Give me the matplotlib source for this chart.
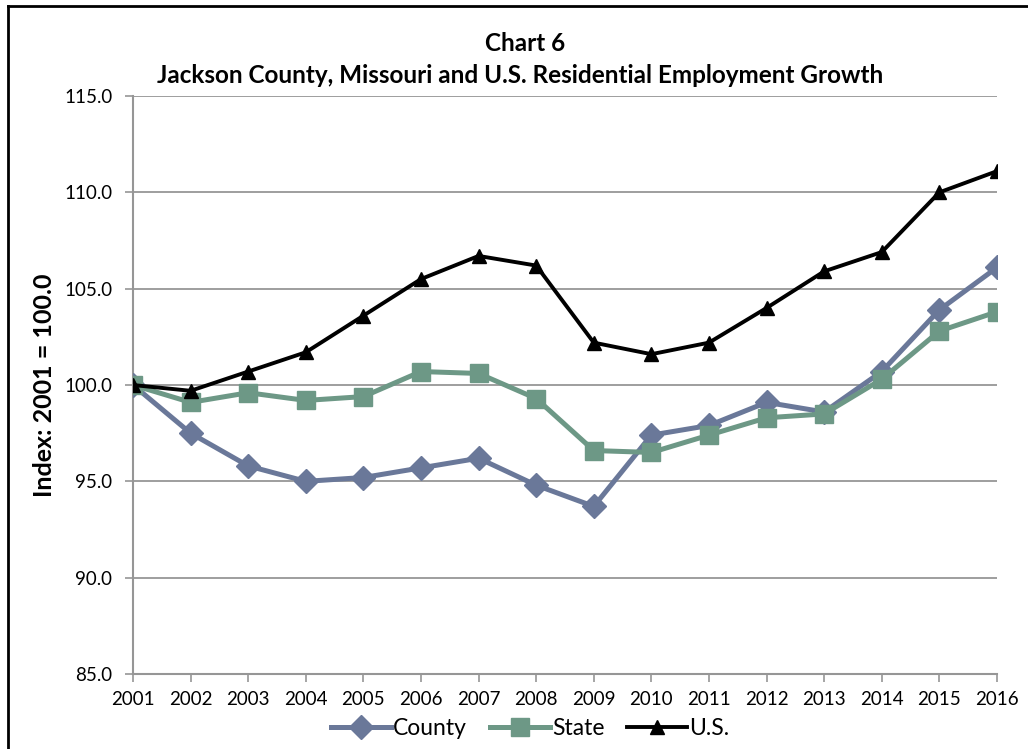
import matplotlib
matplotlib.use("Agg")
import matplotlib.pyplot as plt
from matplotlib.lines import Line2D

plt.rcParams['font.family'] = ['Lato', 'DejaVu Sans']

years = list(range(2001, 2017))
county = [100.0, 97.5, 95.8, 95.0, 95.2, 95.7, 96.2, 94.8, 93.7, 97.4, 97.9, 99.1, 98.6, 100.7, 103.9, 106.1]
state = [100.0, 99.1, 99.6, 99.2, 99.4, 100.7, 100.6, 99.3, 96.6, 96.5, 97.4, 98.3, 98.5, 100.3, 102.8, 103.8]
us = [100.0, 99.7, 100.7, 101.7, 103.6, 105.5, 106.7, 106.2, 102.2, 101.6, 102.2, 104.0, 105.9, 106.9, 110.0, 111.1]

fig = plt.figure(figsize=(10.28, 7.49), dpi=100)
ax = fig.add_axes([0.1294, 0.1001, 0.8404, 0.7717])

grid_c = '#969696'
ax.plot(years, county, color='#6a7899', lw=3.6, marker='D', ms=12, label='County', zorder=3)
ax.plot(years, state, color='#6d9886', lw=3.6, marker='s', ms=13.5, label='State', zorder=3)
ax.plot(years, us, color='black', lw=2.8, marker='^', ms=10.5, label='U.S.', zorder=4)

ax.set_xlim(2001, 2016)
ax.set_ylim(85, 115)
ax.set_xticks(years)
ax.set_yticks([85, 90, 95, 100, 105, 110, 115])
ax.set_yticklabels(['{:.1f}'.format(v) for v in [85, 90, 95, 100, 105, 110, 115]])
ax.yaxis.grid(True, color=grid_c, lw=1.3)
ax.set_axisbelow(True)
for s in ['top', 'right']:
    ax.spines[s].set_visible(False)
for s in ['left', 'bottom']:
    ax.spines[s].set_color(grid_c)
    ax.spines[s].set_linewidth(1.5)
ax.tick_params(axis='both', direction='out', color=grid_c, length=6, width=1.2, labelsize=13.5)
ax.tick_params(axis='x', pad=6)
ax.tick_params(axis='y', pad=9)
ax.set_ylabel('Index: 2001 = 100.0', fontsize=18, fontweight='bold', labelpad=6)

fig.text(0.511, 0.942, 'Chart 6', ha='center', va='center', fontsize=17.5, fontweight='bold')
fig.text(0.5055, 0.899, 'Jackson County, Missouri and U.S. Residential Employment Growth',
         ha='center', va='center', fontsize=17.5, fontweight='bold')

ax.legend(loc='center', bbox_to_anchor=(0.46, -0.095), ncol=3, frameon=False, fontsize=16.5,
          handlelength=2.6, handletextpad=0.1, columnspacing=1.0, borderaxespad=0)

# frame edges
fig.add_artist(Line2D([0.008, 0.008], [0, 0.992], transform=fig.transFigure, color='black', lw=2))
fig.add_artist(Line2D([0.008, 1.0], [0.992, 0.992], transform=fig.transFigure, color='black', lw=2))

fig.savefig('out.png', dpi=100)
